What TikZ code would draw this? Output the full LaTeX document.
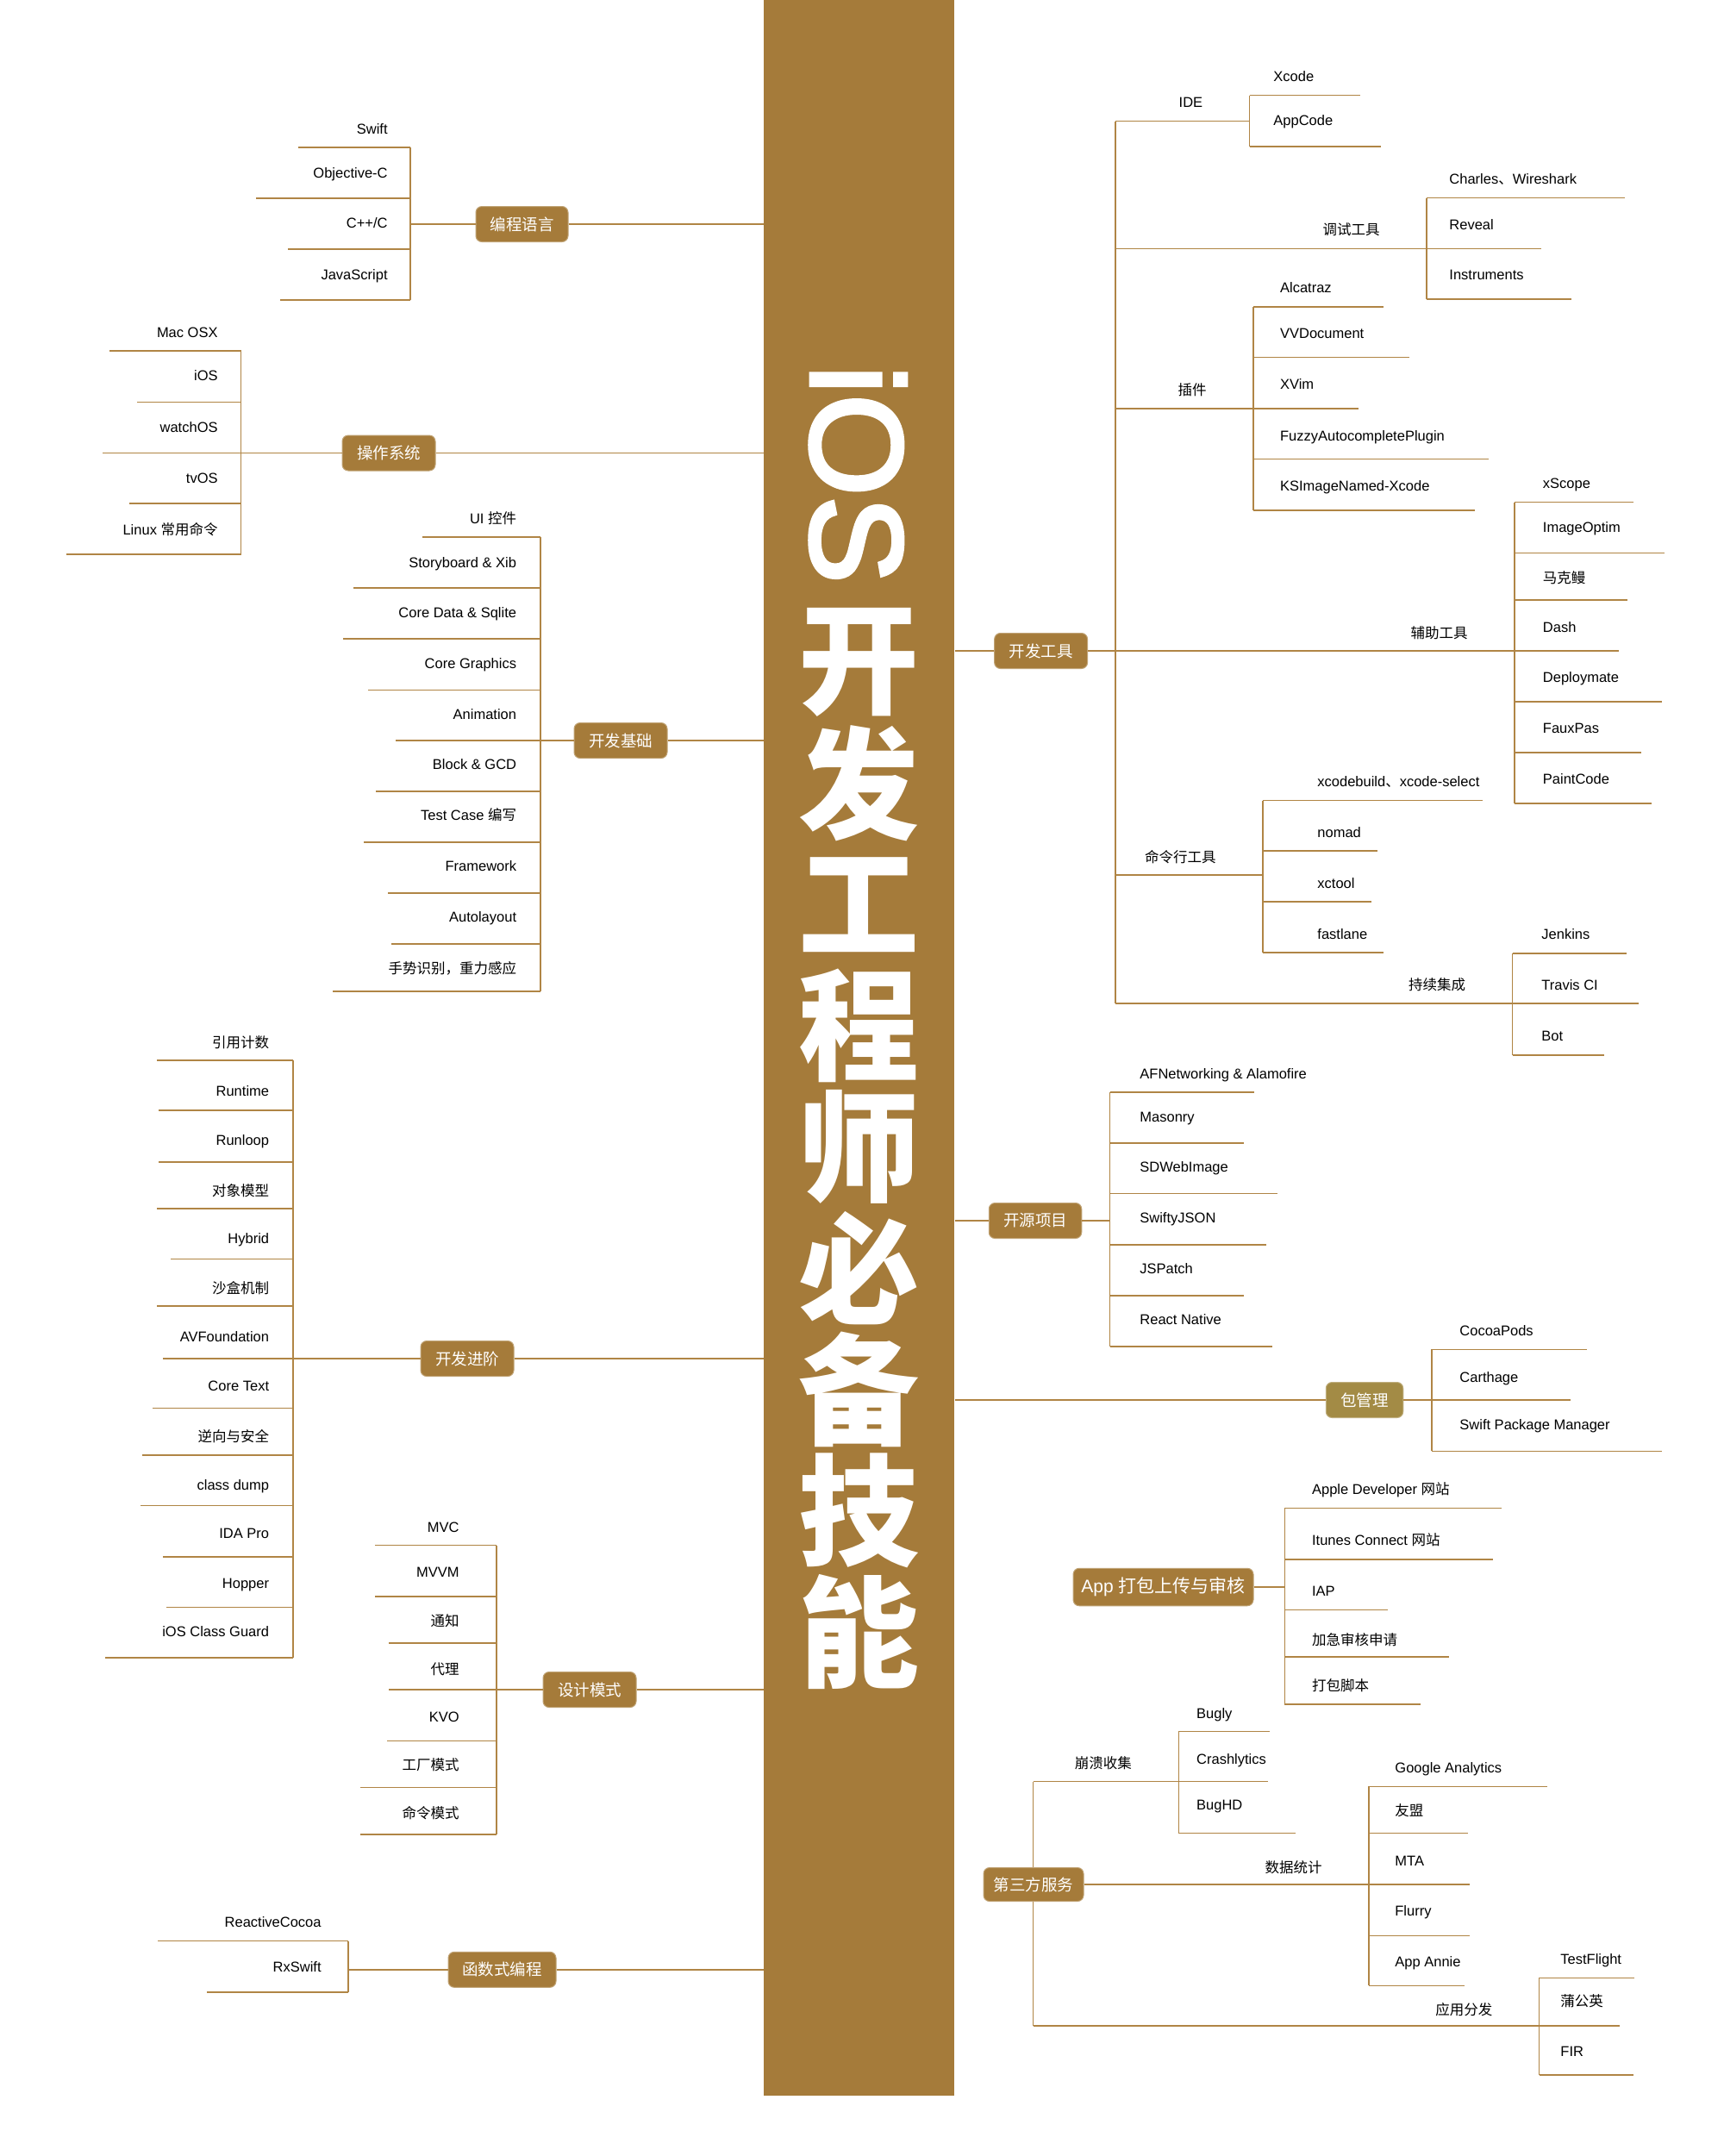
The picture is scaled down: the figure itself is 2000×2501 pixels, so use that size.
\documentclass[tikz,border=0pt]{standalone}
\usepackage{fontspec}
\setmainfont{Liberation Sans}
\newfontfamily\cjk{Noto Sans CJK SC}
\newfontfamily\titlefont[FakeBold=3]{Liberation Sans}
\definecolor{gold}{HTML}{A57B3A}
\definecolor{goldpk}{HTML}{A38B45}
\definecolor{linecol}{HTML}{B08545}
\tikzset{
  ln/.style={draw=linecol, line width=0.75pt},
  topic/.style={rounded corners=3.5pt, fill=gold, draw=gold!70!white, line width=0.5pt,
    text=white, font=\fontsize{9.25pt}{11pt}\cjk, minimum height=20.5pt, inner sep=0pt},
  lab/.style={inner sep=0pt, font=\fontsize{8.25pt}{10pt}\selectfont, text=black},
  tchar/.style={inner sep=0pt, text=white, font=\fontsize{70pt}{70pt}\cjk\bfseries},
}
% left item: name, text right x, text y, line left x, line y, text
\newcommand\LI[6]{\node[lab, anchor=base east] (#1) at (#2,#3+6) {#6};\draw[ln] (#4,#5) -- (\myvx,#5);}
% right item: name, text left x, text y, line right x, line y, text
\newcommand\RI[6]{\node[lab, anchor=base west] (#1) at (#2,#3+6) {#6};\draw[ln] (\myvx,#5) -- (#4,#5);}
% sub branch: name, y, sub x, label y, text, vtop, vbot, main x
\newcommand\SB[8]{\draw[ln] (#8,#2) -- (#3,#2);\node[lab, anchor=base east] (#1) at (#3-54,#4+6) {#5};\draw[ln] (#3,#6) -- (#3,#7);\def\myvx{#3}}
\begin{document}
\begin{tikzpicture}[x=0.5pt, y=-0.5pt]
\useasboundingbox (0,0) rectangle (2000,2501);
\fill[white] (0,0) rectangle (2000,2501);

% central bar and title
\node[fill=gold, inner sep=0pt, minimum width=110.5pt, minimum height=1215.5pt, anchor=north west] (bar) at (886,0) {};
\node[anchor=base west, rotate=-90, inner sep=0pt, text=white, font=\fontsize{76pt}{76pt}\titlefont] (ios) at (941,423) {iOS};
\node[tchar] (t1) at (996.5,768) {开};
\node[tchar] (t2) at (996.5,908.6) {发};
\node[tchar] (t3) at (996.5,1049.2) {工};
\node[tchar] (t4) at (996.5,1189.8) {程};
\node[tchar] (t5) at (996.5,1330.4) {师};
\node[tchar] (t6) at (996.5,1471) {必};
\node[tchar] (t7) at (996.5,1611.6) {备};
\node[tchar] (t8) at (996.5,1752.2) {技};
\node[tchar] (t9) at (996.5,1892.8) {能};

% ===== 编程语言 =====
\node[topic, minimum width=53.5pt] (n1) at (605.5,260) {编程语言};
\draw[ln] (n1.east) -- (n1.east -| bar.west);
\draw[ln] (476,260) -- (n1.west);
\draw[ln] (476,171) -- (476,348);
\def\myvx{476}
\LI{a1}{450}{149}{346}{171}{Swift}
\LI{a2}{450}{200}{297}{230}{Objective-C}
\LI{a3}{450}{258.5}{334}{289}{C++/C}
\LI{a4}{450}{318}{325}{348}{JavaScript}

% ===== 操作系统 =====
\node[topic, minimum width=54pt] (n2) at (451,525.5) {操作系统};
\draw[ln] (n2.east) -- (n2.east -| bar.west);
\draw[ln] (279.5,525.5) -- (n2.west);
\draw[ln] (279.5,407) -- (279.5,643);
\def\myvx{279.5}
\LI{b1}{253}{385}{127}{407}{Mac OSX}
\LI{b2}{253}{435}{159}{466.5}{iOS}
\LI{b3}{253}{495}{119}{525.5}{watchOS}
\LI{b4}{253}{554}{150}{584}{tvOS}
\LI{b5}{253}{614}{77}{643}{Linux {\cjk 常用命令}}

% ===== 开发基础 =====
\node[topic, minimum width=54pt] (n3) at (720,859) {开发基础};
\draw[ln] (n3.east) -- (n3.east -| bar.west);
\draw[ln] (627,859) -- (n3.west);
\draw[ln] (627,623) -- (627,1150);
\def\myvx{627}
\LI{c1}{599.5}{601}{490}{623}{UI {\cjk 控件}}
\LI{c2}{599.5}{652}{410}{682}{Storyboard \& Xib}
\LI{c3}{599.5}{710}{398}{741}{Core Data \& Sqlite}
\LI{c4}{599.5}{769}{427}{800.5}{Core Graphics}
\LI{c5}{599.5}{828}{459}{859}{Animation}
\LI{c6}{599.5}{886.6}{436}{918}{Block \& GCD}
\LI{c7}{599.5}{945}{422}{977}{Test Case {\cjk 编写}}
\LI{c8}{599.5}{1004}{450}{1036}{Framework}
\LI{c9}{599.5}{1063}{454}{1095}{Autolayout}
\LI{c10}{599.5}{1123}{386}{1150}{{\cjk 手势识别，重力感应}}

% ===== 开发进阶 =====
\node[topic, minimum width=54pt] (n4) at (542,1576) {开发进阶};
\draw[ln] (n4.east) -- (n4.east -| bar.west);
\draw[ln] (340,1576) -- (n4.west);
\draw[ln] (340,1230) -- (340,1923);
\def\myvx{340}
\LI{d1}{312.5}{1209}{182}{1230}{{\cjk 引用计数}}
\LI{d2}{312.5}{1265}{184}{1288}{Runtime}
\LI{d3}{312.5}{1322}{184}{1348}{Runloop}
\LI{d4}{312.5}{1381}{182}{1402}{{\cjk 对象模型}}
\LI{d5}{312.5}{1436}{198}{1460.6}{Hybrid}
\LI{d6}{312.5}{1494}{182}{1515}{{\cjk 沙盒机制}}
\LI{d7}{312.5}{1550.5}{189}{1576}{AVFoundation}
\LI{d8}{312.5}{1607}{177}{1633.5}{Core Text}
\LI{d9}{312.5}{1666}{165}{1688}{{\cjk 逆向与安全}}
\LI{d10}{312.5}{1722}{163}{1746.5}{class dump}
\LI{d11}{312.5}{1778}{189}{1806}{IDA Pro}
\LI{d12}{312.5}{1836}{193}{1864.5}{Hopper}
\LI{d13}{312.5}{1892.6}{122}{1923}{iOS Class Guard}

% ===== 设计模式 =====
\node[topic, minimum width=54pt] (n5) at (684,1960) {设计模式};
\draw[ln] (n5.east) -- (n5.east -| bar.west);
\draw[ln] (576,1960) -- (n5.west);
\draw[ln] (576,1792.5) -- (576,2128);
\def\myvx{576}
\LI{e1}{533}{1771}{435}{1792.5}{MVC}
\LI{e2}{533}{1823.7}{435}{1852}{MVVM}
\LI{e3}{533}{1880.5}{451}{1906}{{\cjk 通知}}
\LI{e4}{533}{1936}{451}{1960}{{\cjk 代理}}
\LI{e5}{533}{1991}{449}{2019.5}{KVO}
\LI{e6}{533}{2047.6}{418}{2073.7}{{\cjk 工厂模式}}
\LI{e7}{533}{2103}{418}{2128}{{\cjk 命令模式}}

% ===== 函数式编程 =====
\node[topic, minimum width=62.5pt] (n6) at (582.5,2284.8) {函数式编程};
\draw[ln] (n6.east) -- (n6.east -| bar.west);
\draw[ln] (404,2284.8) -- (n6.west);
\draw[ln] (404,2251.6) -- (404,2311);
\def\myvx{404}
\LI{f1}{373}{2229}{183}{2251.6}{ReactiveCocoa}
\LI{f2}{373}{2281.6}{240}{2311}{RxSwift}

% ===== 开发工具 =====
\node[topic, minimum width=54pt] (n7) at (1207.6,755) {开发工具};
\draw[ln] (bar.east |- n7.west) -- (n7.west);
\draw[ln] (n7.east) -- (1294,755);
\draw[ln] (1294,140.6) -- (1294,1164);
\SB{g1}{140.6}{1449.6}{118.3}{IDE}{110.7}{170}{1294}
\RI{g1a}{1477}{88.8}{1578}{110.7}{Xcode}
\RI{g1b}{1477}{139}{1602}{170}{AppCode}
\SB{g2}{288.4}{1655}{266}{{\cjk 调试工具}}{229.5}{347}{1294}
\RI{g2a}{1681}{207}{1885}{229.5}{Charles{\cjk 、}Wireshark}
\RI{g2b}{1681}{260}{1788}{288.4}{Reveal}
\RI{g2c}{1681}{318}{1823}{347}{Instruments}
\SB{g3}{474}{1454}{452}{{\cjk 插件}}{356}{592}{1294}
\RI{g3a}{1484.7}{333.5}{1604.6}{356}{Alcatraz}
\RI{g3b}{1484.7}{386}{1634.6}{414.7}{VVDocument}
\RI{g3c}{1484.7}{445.5}{1576}{474}{XVim}
\RI{g3d}{1484.7}{505}{1727}{532.6}{FuzzyAutocompletePlugin}
\RI{g3e}{1484.7}{563}{1710.5}{592}{KSImageNamed-Xcode}
\SB{g4}{755}{1757}{734.8}{{\cjk 辅助工具}}{582.6}{932}{1294}
\RI{g4a}{1789.5}{560.7}{1894.8}{582.6}{xScope}
\RI{g4b}{1789.5}{611}{1930.5}{641.5}{ImageOptim}
\RI{g4c}{1789.5}{670.4}{1887.7}{696}{{\cjk 马克鳗}}
\RI{g4d}{1789.5}{727}{1878}{755}{Dash}
\RI{g4e}{1789.5}{785.8}{1928}{814}{Deploymate}
\RI{g4f}{1789.5}{844.5}{1904}{873}{FauxPas}
\RI{g4g}{1789.5}{903}{1916}{932}{PaintCode}
\SB{g5}{1014.8}{1465}{994}{{\cjk 命令行工具}}{928.7}{1105}{1294}
\RI{g5a}{1528}{906}{1720}{928.7}{xcodebuild{\cjk 、}xcode-select}
\RI{g5b}{1528}{965}{1597.6}{987}{nomad}
\RI{g5c}{1528}{1024}{1590.6}{1046}{xctool}
\RI{g5d}{1528}{1083}{1604.6}{1105}{fastlane}
\SB{g6}{1164}{1754.5}{1142}{{\cjk 持续集成}}{1106}{1224}{1294}
\RI{g6a}{1788}{1083.7}{1886.5}{1106}{Jenkins}
\RI{g6b}{1788}{1142}{1901}{1164}{Travis CI}
\RI{g6c}{1788}{1201}{1861}{1224}{Bot}

% ===== 开源项目 =====
\node[topic, minimum width=53.75pt] (n8) at (1201,1416) {开源项目};
\draw[ln] (bar.east |- n8.west) -- (n8.west);
\draw[ln] (n8.east) -- (1287.6,1416);
\draw[ln] (1287.6,1267) -- (1287.6,1562);
\def\myvx{1287.6}
\RI{h1}{1322}{1245}{1455}{1267}{AFNetworking \& Alamofire}
\RI{h2}{1322}{1295}{1442.6}{1326}{Masonry}
\RI{h3}{1322}{1353.4}{1482}{1384.7}{SDWebImage}
\RI{h4}{1322}{1412.8}{1468.7}{1444}{SwiftyJSON}
\RI{h5}{1322}{1471.4}{1442.6}{1503}{JSPatch}
\RI{h6}{1322}{1530}{1475.8}{1562}{React Native}

% ===== 包管理 =====
\node[topic, fill=goldpk, draw=goldpk!70!white, minimum width=44.75pt] (n9) at (1583,1624) {包管理};
\draw[ln] (bar.east |- n9.west) -- (n9.west);
\draw[ln] (n9.east) -- (1661,1624);
\draw[ln] (1661,1565.4) -- (1661,1683.4);
\def\myvx{1661}
\RI{i1}{1693}{1543}{1841}{1565.4}{CocoaPods}
\RI{i2}{1693}{1597.3}{1822}{1624}{Carthage}
\RI{i3}{1693}{1652.8}{1928}{1683.4}{Swift Package Manager}

% ===== App 打包上传与审核 =====
\node[topic, minimum width=104.5pt, minimum height=21.75pt, font=\fontsize{10.5pt}{12pt}\selectfont] (n10) at (1349.5,1841) {App {\cjk 打包上传与审核}};
\draw[ln] (n10.east) -- (1490.4,1841);
\draw[ln] (1490.4,1749.7) -- (1490.4,1976.8);
\def\myvx{1490.4}
\RI{j1}{1521.7}{1727.4}{1742}{1749.7}{Apple Developer {\cjk 网站}}
\RI{j2}{1521.7}{1786}{1732}{1809}{Itunes Connect {\cjk 网站}}
\RI{j3}{1521.7}{1845.4}{1610}{1867.7}{IAP}
\RI{j4}{1521.7}{1902}{1681}{1922}{{\cjk 加急审核申请}}
\RI{j5}{1521.7}{1955.7}{1648}{1976.8}{{\cjk 打包脚本}}

% ===== 第三方服务 =====
\draw[ln] (1198.5,2066.7) -- (1198.5,2350);
\node[topic, minimum width=58pt, minimum height=19.5pt] (n11) at (1199,2186) {第三方服务};
\SB{k1}{2066.7}{1367.3}{2045}{{\cjk 崩溃收集}}{2008.7}{2126.6}{1198.5}
\RI{k1a}{1387.8}{1987}{1472.6}{2008.7}{Bugly}
\RI{k1b}{1387.8}{2040.5}{1471}{2066.7}{Crashlytics}
\RI{k1c}{1387.8}{2093.5}{1503}{2126.6}{BugHD}
\draw[ln] (n11.east) -- (1588,2186);
\node[lab, anchor=base east] (k2) at (1534,2172) {{\cjk 数据统计}};
\draw[ln] (1588,2072.4) -- (1588,2303.3);
\def\myvx{1588}
\RI{k2a}{1618}{2050}{1795.3}{2072.4}{Google Analytics}
\RI{k2b}{1618}{2100.5}{1702.8}{2126.6}{{\cjk 友盟}}
\RI{k2c}{1618}{2158}{1704.7}{2186}{MTA}
\RI{k2d}{1618}{2216.6}{1705.4}{2245.3}{Flurry}
\RI{k2e}{1618}{2275.2}{1699}{2303.3}{App Annie}
\SB{k3}{2350}{1785.7}{2331}{{\cjk 应用分发}}{2294.4}{2407.2}{1198.5}
\RI{k3a}{1810}{2272}{1896}{2294.4}{TestFlight}
\RI{k3b}{1810}{2321}{1879}{2350}{{\cjk 蒲公英}}
\RI{k3c}{1810}{2379}{1895.4}{2407.2}{FIR}
\end{tikzpicture}
\end{document}
